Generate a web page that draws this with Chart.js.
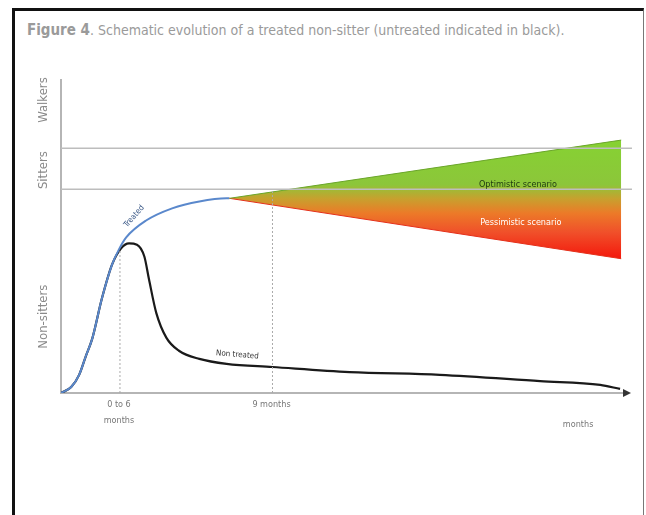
<!DOCTYPE html>
<html>
<head>
<meta charset="utf-8">
<script src="https://cdn.jsdelivr.net/npm/chart.js@4"></script>
<style>
body { margin:0; background:#fff; }
#frame { position:absolute; left:12px; top:8px; width:628px; height:520px;
	border-left:3px solid #111; border-top:3px solid #111; border-right:1px solid #777; }
#title { position:absolute; left:27px; top:21px; font-family:"Liberation Sans Narrow","DejaVu Sans Condensed",sans-serif;
	font-size:14px; color:#9a9a9a; white-space:nowrap; }
#title b { font-size:15px; }
#wrap { position:absolute; left:0; top:0; width:646px; height:515px; }
</style>
</head>
<body>
<div id="frame"></div>
<div id="title"><b>Figure 4</b>. Schematic evolution of a treated non-sitter (untreated indicated in black).</div>
<div id="wrap"><canvas id="chart"></canvas></div>
<script>
// ----------------------------------------------------------------------
// values (x: time in arbitrary units 0-100, y: motor level 0-100)
const treated_x = [0, 1.8, 3.2, 4.4, 5.5, 7.2, 9.0, 10.2, 11.5, 15.0, 19.6, 24.4, 29.2, 29.7]
const treated_y = [0, 1.9, 5.8, 11.9, 17.3, 30.1, 41.0, 45.8, 49.7, 55.1, 59.0, 61.2, 62.2, 62.2]

const untreated_x = [0, 1.8, 3.2, 4.4, 5.5, 7.2, 9.0, 10.6, 12.0, 13.4, 14.7, 15.5, 16.8, 18.6, 20.8, 24.4, 29.2, 37.3, 50.9, 66.8, 84.5, 95.1, 98.6]
const untreated_y = [0, 1.9, 5.8, 11.9, 17.3, 30.1, 41.0, 46.2, 47.8, 47.4, 43.6, 36.5, 25.6, 17.6, 13.5, 10.9, 9.3, 8.3, 6.7, 5.8, 3.8, 2.6, 1.3]

const scenario_x = [29.7, 98.8]
const optimistic_y = [62.2, 80.8]
const pessimistic_y = [62.2, 42.9]

const level_names = ["Non-sitters", "Sitters", "Walkers"]
const level_centers = [24.4, 71.2, 93.6]
const level_lines = [65.1, 78.2]

const tick_values = [10.4, 37.3]
const tick_labels = [["0 to 6", "months"], ["9 months"]]

// ----------------------------------------------------------------------
function pts (xs, ys)
{
	return xs.map((x, i) => ({x: x, y: ys[i]}))
}

function fan_gradient (context)
{
	const chart = context.chart
	if (!chart.chartArea) return '#8ac43a'
	const yy = chart.scales.y
	const g = chart.ctx.createLinearGradient(0, yy.getPixelForValue(81), 0, yy.getPixelForValue(43))
	g.addColorStop(0, '#86d232')
	g.addColorStop(0.38, '#8cc63a')
	g.addColorStop(0.5, '#c8a02e')
	g.addColorStop(0.62, '#ec7a28')
	g.addColorStop(0.78, '#f0502a')
	g.addColorStop(1, '#f4180c')
	return g
}

const datasets = []

level_lines.forEach(v => datasets.push({
	data: pts([0, 100.7], [v, v]), borderColor: '#bdbdbd', borderWidth: 1.3,
	pointRadius: 0, clip: false
	}))

datasets.push({
	data: pts([tick_values[0], tick_values[0]], [0, 46]), borderColor: '#aaaaaa', borderWidth: 1,
	borderDash: [2, 2], pointRadius: 0
	})
datasets.push({
	data: pts([tick_values[1], tick_values[1]], [0, 64.5]), borderColor: '#aaaaaa', borderWidth: 1,
	borderDash: [2, 2], pointRadius: 0
	})

datasets.push({
	data: pts(scenario_x, optimistic_y), borderColor: '#6aa52a', borderWidth: 1,
	pointRadius: 0, fill: false
	})
datasets.push({
	data: pts(scenario_x, pessimistic_y), borderColor: '#e4301a', borderWidth: 1,
	pointRadius: 0, fill: '-1', backgroundColor: fan_gradient
	})

datasets.push({
	data: pts(treated_x, treated_y), borderColor: '#5a88cc', borderWidth: 2,
	pointRadius: 0, cubicInterpolationMode: 'monotone'
	})
datasets.push({
	data: pts(untreated_x, untreated_y), borderColor: '#1a1a1a', borderWidth: 2.2,
	pointRadius: 0, cubicInterpolationMode: 'monotone'
	})

// ----------------------------------------------------------------------
const text_plugin = {
	id: 'texts',
	afterDatasetsDraw (chart)
	{
	const ctx = chart.ctx
	const xs = chart.scales.x
	const ys = chart.scales.y
	const X = v => xs.getPixelForValue(v)
	const Y = v => ys.getPixelForValue(v)
	const fam = '"Liberation Sans Narrow","DejaVu Sans Condensed",sans-serif'

	ctx.save()
	ctx.textAlign = 'center'
	ctx.textBaseline = 'middle'

	// level names on the y axis
	ctx.fillStyle = '#8a8a8a'
	ctx.font = '13px ' + fam
	level_names.forEach((name, i) => {
		ctx.save()
		ctx.translate(X(0) - 17, Y(level_centers[i]))
		ctx.rotate(-Math.PI / 2)
		ctx.fillText(name, 0, 0)
		ctx.restore()
		})

	// x ticks
	ctx.fillStyle = '#777'
	ctx.font = '9px ' + fam
	tick_values.forEach((v, i) => {
		tick_labels[i].forEach((s, k) => ctx.fillText(s, X(v) - 1, Y(0) + 12 + k * 16))
		})
	ctx.fillText("months", X(91.2), Y(0) + 32)

	// curve labels
	ctx.fillStyle = '#3c5a88'
	ctx.font = '8px ' + fam
	ctx.save()
	ctx.translate(X(12.9), Y(56.4))
	ctx.rotate(-0.85)
	ctx.fillText("Treated", 0, 0)
	ctx.restore()

	ctx.fillStyle = '#333'
	ctx.save()
	ctx.translate(X(31.1), Y(12.2))
	ctx.rotate(0.08)
	ctx.fillText("Non treated", 0, 0)
	ctx.restore()

	ctx.font = '9px ' + fam
	ctx.fillStyle = '#1e3a10'
	ctx.fillText("Optimistic scenario", X(80.6), Y(66.7))
	ctx.fillStyle = '#ffffff'
	ctx.fillText("Pessimistic scenario", X(81.1), Y(54.5))

	// arrow head on the x axis
	ctx.fillStyle = '#333'
	ctx.beginPath()
	ctx.moveTo(X(100) + 3, Y(0))
	ctx.lineTo(X(100) - 5, Y(0) - 4)
	ctx.lineTo(X(100) - 5, Y(0) + 4)
	ctx.closePath()
	ctx.fill()
	ctx.restore()
	}
	}

// ----------------------------------------------------------------------
const config = {
	type: 'line',
	data: { datasets: datasets },
	options: {
		responsive: false,
		animation: false,
		layout: { padding: { left: 61, top: 80, right: 18, bottom: 122 } },
		plugins: { legend: { display: false }, tooltip: { enabled: false } },
		scales: {
			x: { type: 'linear', min: 0, max: 100,
				grid: { display: false, drawTicks: false },
				ticks: { display: false },
				border: { color: '#b5b5b5', width: 2 } },
			y: { min: 0, max: 100,
				grid: { display: false, drawTicks: false },
				ticks: { display: false },
				border: { color: '#b5b5b5', width: 2 } }
			}
		},
	plugins: [text_plugin]
	}

const canvas = document.getElementById("chart")
canvas.width = 646
canvas.height = 515
const chart = new Chart(canvas, config)
</script>
</body>
</html>
